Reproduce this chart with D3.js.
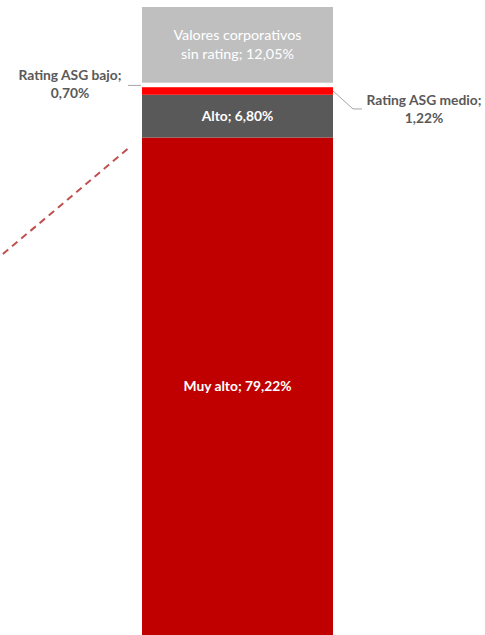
<!DOCTYPE html>
<html><head><meta charset="utf-8">
<script src="https://cdn.jsdelivr.net/npm/d3@7"></script>
<style>body{margin:0;background:#fff}svg{display:block}text{font-family:Lato,"Open Sans",sans-serif}</style>
</head><body>
<svg id="c" width="485" height="635"></svg>
<script>
const categories = ["Muy alto","Alto","Rating ASG medio","Rating ASG bajo","Valores corporativos sin rating"];
const values = [79.22, 6.80, 1.22, 0.70, 12.05];
const labelLines = [["Muy alto; 79,22%"],["Alto; 6,80%"],["Rating ASG medio;","1,22%"],["Rating ASG bajo;","0,70%"],["Valores corporativos","sin rating; 12,05%"]];
const colors = ["#C00000","#595959","#FF0000","#FFFFFF","#BFBFBF"];

const svg = d3.select("#c");
const total = d3.sum(values);
const y = d3.scaleLinear().domain([0,total]).range([635.3,7]);
const barL = 142, barR = 333;

let cum = 0;
const segs = values.map((v,i)=>{const s={i,v,y0:cum,y1:cum+v};cum+=v;return s;});

svg.selectAll("rect.seg").data(segs).join("rect")
  .attr("class","seg")
  .attr("x",barL).attr("width",barR-barL)
  .attr("y",d=>y(d.y1)).attr("height",d=>y(d.y0)-y(d.y1))
  .attr("fill",d=>colors[d.i]);

const cx = (barL+barR)/2;
function inside(i, weight, size, dy){
  const s = segs[i];
  const mid = (y(s.y0)+y(s.y1))/2;
  const lines = labelLines[i];
  const lh = 19.5;
  const t = svg.append("text").attr("text-anchor","middle").attr("fill","#fff")
    .attr("font-size",size).attr("font-weight",weight);
  lines.forEach((l,k)=>{
    t.append("tspan").attr("x",cx).attr("y",mid + dy + (k-(lines.length-1)/2)*lh).text(l);
  });
}
inside(0,"bold",13.8,4.5);
inside(1,"bold",13.8,4.5);
inside(4,"normal",14.3,4.5);

function outside(i, tx, ty){
  const t = svg.append("text").attr("text-anchor","middle").attr("fill","#595959")
    .attr("font-size",13.8).attr("font-weight","bold");
  labelLines[i].forEach((l,k)=>{
    t.append("tspan").attr("x",tx).attr("y",ty + k*18).text(l);
  });
}
const sMed = segs[2], sBajo = segs[3];
const yMed = (y(sMed.y0)+y(sMed.y1))/2;
const yBajo = (y(sBajo.y0)+y(sBajo.y1))/2;
outside(2, 424, yMed+14);
outside(3, 70, yBajo-5);

svg.append("path").attr("fill","none").attr("stroke","#A6A6A6").attr("stroke-width",1)
  .attr("d",`M${barR},${yMed}L${barR+20},${yMed+18}L${barR+29},${yMed+18}`);
svg.append("path").attr("fill","none").attr("stroke","#A6A6A6").attr("stroke-width",1)
  .attr("d",`M${barL-14},${yBajo+0.5}L${barL-1},${yBajo+0.5}`);

const yTopMuy = y(segs[0].y1);
svg.append("line").attr("x1",barL-14.5).attr("y1",yTopMuy+11.5)
  .attr("x2",0).attr("y2",yTopMuy+11.5+107.5)
  .attr("stroke","#C0504D").attr("stroke-width",2).attr("stroke-dasharray","7,5");
</script>
</body></html>
